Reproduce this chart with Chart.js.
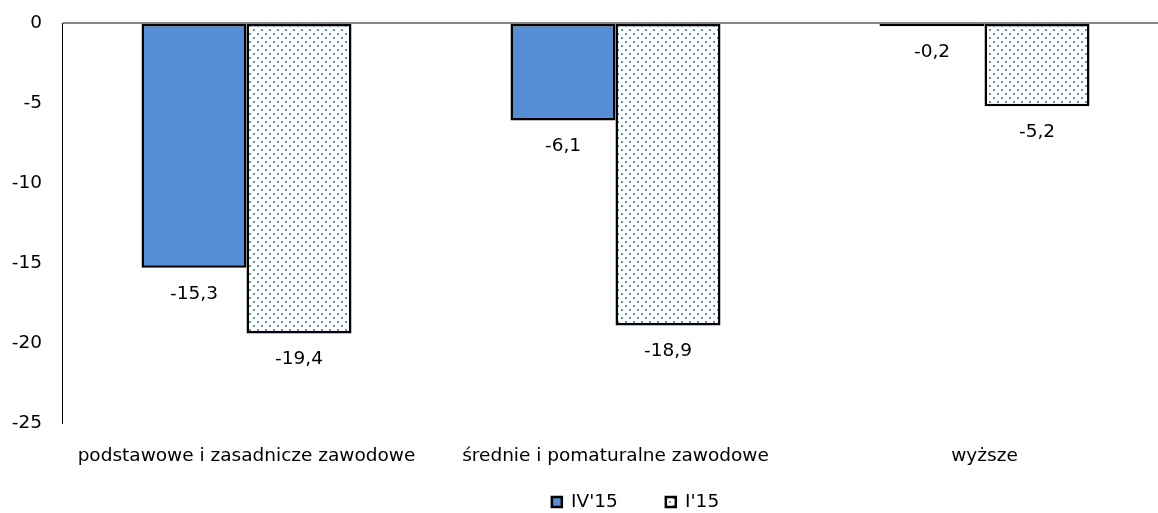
<!DOCTYPE html>
<html><head><meta charset="utf-8">
<script src="https://cdn.jsdelivr.net/npm/chart.js@4.4.0/dist/chart.umd.min.js"></script>
<style>
html,body{margin:0;padding:0;overflow:hidden;background:#fff;width:1158px;height:513px}
#wrap{width:1169px;height:513px;position:relative}
</style></head>
<body><div id="wrap"><canvas id="c" width="1169" height="513"></canvas></div>
<script>
const categories = ['podstawowe i zasadnicze zawodowe', 'średnie i pomaturalne zawodowe', 'wyższe'];
const seriesNames = ["IV'15", "I'15"];
const valuesIV15 = [-15.3, -6.1, -0.2];
const valuesI15 = [-19.4, -18.9, -5.2];
const yTicks = [0, -5, -10, -15, -20, -25];

const FONT = 'DejaVu Sans';
const FSIZE = 18.5;
Chart.defaults.font.family = FONT;
Chart.defaults.font.size = FSIZE;
Chart.defaults.color = '#000';

function makeDots() {
  const pc = document.createElement('canvas');
  pc.width = 8; pc.height = 8;
  const p = pc.getContext('2d');
  p.fillStyle = '#ffffff';
  p.fillRect(0, 0, 8, 8);
  p.fillStyle = '#5b8fd6';
  p.fillRect(1, 1, 2, 2);
  p.fillRect(5, 5, 2, 2);
  return document.getElementById('c').getContext('2d').createPattern(pc, 'repeat');
}

const barLabels = {
  id: 'barLabels',
  afterDatasetsDraw(chart) {
    const ctx = chart.ctx;
    ctx.save();
    ctx.font = FSIZE + 'px "' + FONT + '"';
    ctx.fillStyle = '#000';
    ctx.textAlign = 'center';
    ctx.textBaseline = 'middle';
    chart.data.datasets.forEach((ds, i) => {
      const meta = chart.getDatasetMeta(i);
      meta.data.forEach((bar, j) => {
        const v = ds.data[j];
        ctx.fillText(String(v).replace('.', ','), bar.x, bar.y + 26);
      });
    });
    ctx.restore();
  }
};

// place the legend where the reference has it
const legendShift = {
  id: 'legendShift',
  afterLayout(chart) {
    const l = chart.legend;
    if (l) {
      l.left += 51; l.right += 51;
      l.top = 444.75; l.bottom = 513;
    }
  }
};

new Chart(document.getElementById('c'), {
  type: 'bar',
  data: {
    labels: categories,
    datasets: [
      { label: seriesNames[0], data: valuesIV15, backgroundColor: '#558ed5', borderColor: '#000', borderWidth: 2.5, borderSkipped: false },
      { label: seriesNames[1], data: valuesI15, backgroundColor: makeDots(), borderColor: '#000', borderWidth: 2.5, borderSkipped: false }
    ]
  },
  options: {
    responsive: false,
    animation: false,
    devicePixelRatio: 1,
    datasets: { bar: { categoryPercentage: 210 / 369, barPercentage: 1 } },
    layout: { padding: { top: 23, left: 0, right: 0, bottom: 0 } },
    plugins: {
      tooltip: { enabled: false },
      legend: {
        position: 'bottom',
        maxHeight: 20,
        labels: { boxWidth: 10, boxHeight: 10, padding: 48, color: '#000', font: { size: FSIZE } }
      }
    },
    scales: {
      x: {
        grid: { display: false },
        border: { display: false },
        ticks: { padding: 14, color: '#000', maxRotation: 0, autoSkip: false },
        afterFit(s) { s.height = 70; s.paddingLeft = 0; s.paddingRight = 0; }
      },
      y: {
        min: -25, max: 0,
        afterBuildTicks(s) { s.ticks = yTicks.map(v => ({ value: v })); },
        grid: {
          drawTicks: false,
          color: c => (c.tick && c.tick.value === 0) ? '#868686' : 'rgba(0,0,0,0)',
          lineWidth: 2
        },
        border: { display: true, color: '#000', width: 1 },
        ticks: { padding: 20, color: '#000', callback: v => String(v) },
        afterFit(s) { s.width = 62; s.paddingTop = 0; s.paddingBottom = 0; }
      }
    }
  },
  plugins: [barLabels, legendShift]
});
</script></body></html>
